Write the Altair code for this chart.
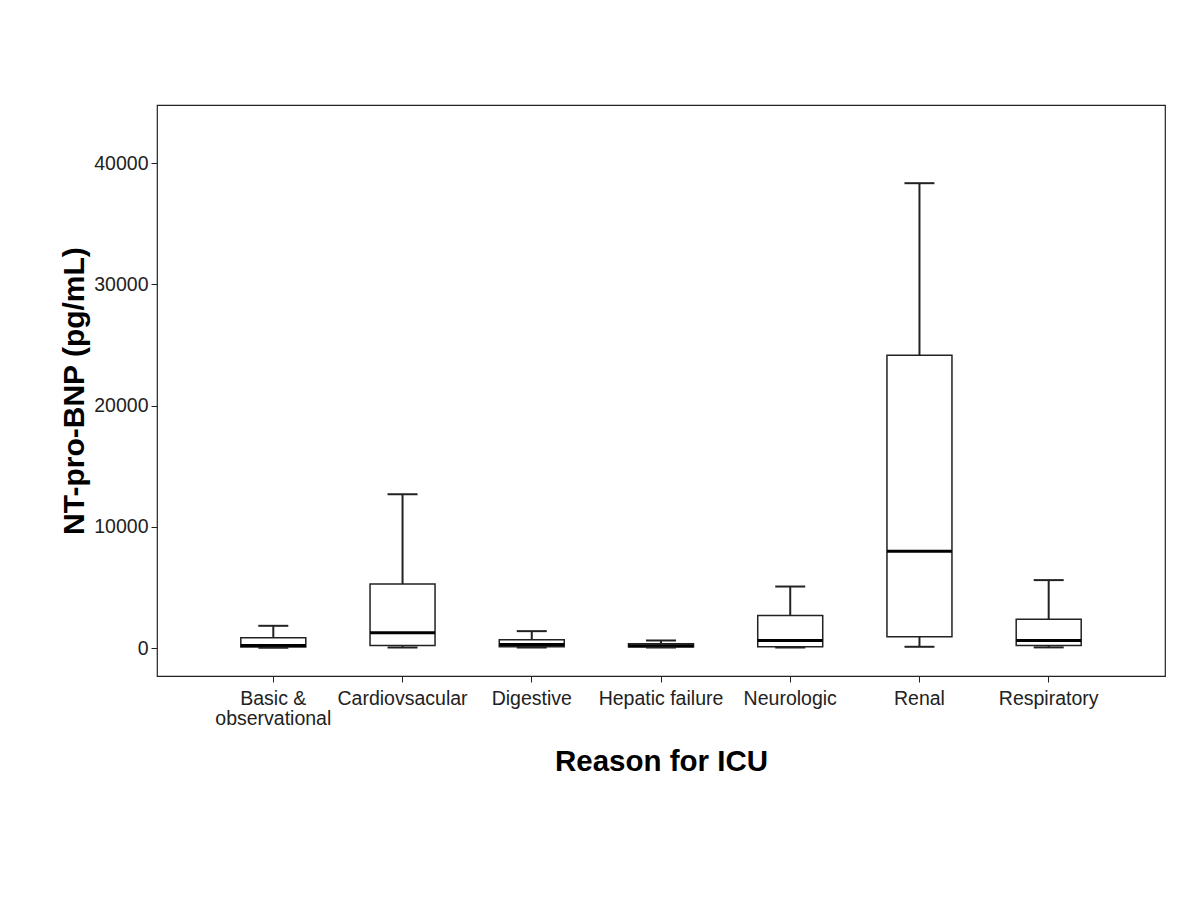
import altair as alt
import pandas as pd

categories = ["Basic & observational", "Cardiovsacular", "Digestive", "Hepatic failure",
              "Neurologic", "Renal", "Respiratory"]
whisker_low = [30, 50, 50, 50, 50, 110, 60]
q1 = [100, 220, 120, 100, 110, 930, 220]
median = [220, 1260, 300, 200, 630, 8000, 630]
q3 = [850, 5280, 690, 360, 2700, 24160, 2390]
whisker_high = [1840, 12700, 1400, 630, 5080, 38350, 5610]

df = pd.DataFrame({
    "cat": categories, "lo": whisker_low, "q1": q1, "med": median,
    "q3": q3, "hi": whisker_high,
})

FONT = "Liberation Sans"
INK = "#222222"

x = alt.X("cat:N", sort=categories, title="Reason for ICU",
          scale=alt.Scale(paddingInner=0, paddingOuter=0.4),
          axis=alt.Axis(labelAngle=0, labelFont=FONT, labelFontSize=19.5, labelColor=INK,
                        labelExpr="datum.value == 'Basic & observational' ? ['Basic &', 'observational'] : datum.value",
                        labelLineHeight=20, labelPadding=7,
                        titleFont=FONT, titleFontSize=29.5, titleFontWeight="bold", titleColor="#000",
                        titlePadding=20, domain=False, ticks=True, tickSize=6, tickColor=INK,
                        labelBaseline="top"))
yscale = alt.Scale(domain=[-2300, 44800], nice=False, zero=False)
yaxis = alt.Axis(values=[0, 10000, 20000, 30000, 40000], format="d", grid=False,
                 labelFont=FONT, labelFontSize=19.5, labelColor=INK, labelPadding=3,
                 titleFont=FONT, titleFontSize=30, titleFontWeight="bold", titleColor="#000",
                 titlePadding=4, domain=False, tickSize=6, tickColor=INK)

base = alt.Chart(df)

upper = base.mark_rule(color=INK, strokeWidth=2).encode(
    x=x, y=alt.Y("q3:Q", scale=yscale, axis=yaxis, title="NT-pro-BNP (pg/mL)"), y2="hi:Q")
lower = base.mark_rule(color=INK, strokeWidth=2).encode(x=x, y=alt.Y("lo:Q", scale=yscale), y2="q1:Q")
box = base.mark_bar(size=65, fill="white", stroke=INK, strokeWidth=1.5).encode(
    x=x, y=alt.Y("q1:Q", scale=yscale), y2="q3:Q")
med = base.mark_tick(size=65, thickness=3, color="#000", opacity=1).encode(
    x=x, y=alt.Y("med:Q", scale=yscale))
cap_hi = base.mark_tick(size=30, thickness=2, color=INK, opacity=1).encode(
    x=x, y=alt.Y("hi:Q", scale=yscale))
cap_lo = base.mark_tick(size=30, thickness=2, color=INK, opacity=1).encode(
    x=x, y=alt.Y("lo:Q", scale=yscale))

chart = alt.layer(upper, lower, box, med, cap_hi, cap_lo).properties(
    width=1008, height=571,
    background="white",
    autosize=alt.AutoSizeParams(type="none"),
    padding={"left": 149, "top": 97, "right": 20, "bottom": 200},
).configure_view(stroke=INK, strokeWidth=1.2)

chart.save("out.html", embed_options={"renderer": "svg", "actions": False})
